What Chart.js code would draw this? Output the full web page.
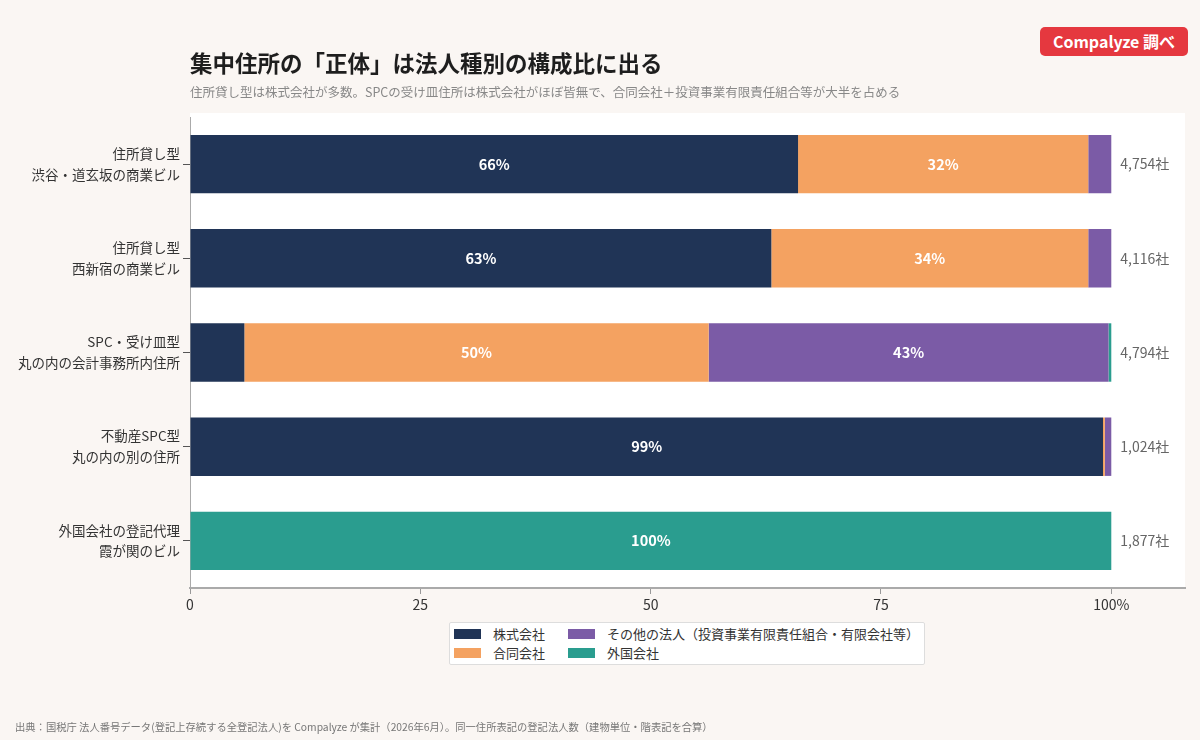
<!DOCTYPE html>
<html lang="ja">
<head>
<meta charset="utf-8"/>
<title>集中住所の「正体」は法人種別の構成比に出る</title>
<script src="https://cdn.jsdelivr.net/npm/chart.js"></script>
<style>
    html, body {
        margin: 0;
        padding: 0;
        width: 1200px;
        height: 740px;
        background: #faf6f3;
        font-family: 'Noto Sans CJK JP', 'Noto Sans', sans-serif;
        overflow: hidden;
    }
    #wrap { position: relative; width: 1200px; height: 740px; }
    #chart { position: absolute; left: 0; top: 0; }
    .title {
        position: absolute; left: 190px; top: 46px;
        font-size: 22.5px; font-weight: bold; color: #1e1e1e;
    }
    .subtitle {
        position: absolute; left: 190px; top: 82px;
        font-size: 12.5px; color: #888;
    }
    .badge {
        position: absolute; left: 1040px; top: 27px; width: 148px; height: 29px;
        background: #e5383f; color: #fff; border-radius: 5px;
        font-size: 16px; font-weight: bold; line-height: 29px; text-align: center;
    }
    .legend {
        position: absolute; left: 449px; top: 622px; width: 474px; height: 41px;
        background: #fff; border: 1px solid #ddd; border-radius: 2px;
        font-size: 13px; color: #333;
    }
    .legend .item { position: absolute; display: flex; align-items: center; line-height: 18px; }
    .legend .sw { width: 27px; height: 10px; margin-right: 12px; }
    .footer {
        position: absolute; left: 15px; top: 719px;
        font-size: 10.3px; color: #777;
    }
</style>
</head>
<body>
<div id="wrap">
    <canvas id="chart" width="1200" height="740"></canvas>
    <div class="title">集中住所の「正体」は法人種別の構成比に出る</div>
    <div class="subtitle">住所貸し型は株式会社が多数。SPCの受け皿住所は株式会社がほぼ皆無で、合同会社＋投資事業有限責任組合等が大半を占める</div>
    <div class="badge">Compalyze 調べ</div>
    <div class="legend" id="legend"></div>
    <div class="footer">出典：国税庁 法人番号データ(登記上存続する全登記法人)を Compalyze が集計（2026年6月）。同一住所表記の登記法人数（建物単位・階表記を合算）</div>
</div>
<script>
// categories (two-line labels)
const categories = [
    ['住所貸し型', '渋谷・道玄坂の商業ビル'],
    ['住所貸し型', '西新宿の商業ビル'],
    ['SPC・受け皿型', '丸の内の会計事務所内住所'],
    ['不動産SPC型', '丸の内の別の住所'],
    ['外国会社の登記代理', '霞が関のビル']
];
const totals = ['4,754社', '4,116社', '4,794社', '1,024社', '1,877社'];

const seriesNames = ['株式会社', '合同会社', 'その他の法人（投資事業有限責任組合・有限会社等）', '外国会社'];
const seriesColors = ['#203456', '#f4a261', '#7b5ba6', '#2a9d8f'];

// share (%) per category
const kabushiki = [66.0, 63.1, 5.9, 99.1, 0];
const godo      = [31.5, 34.4, 50.4, 0.2, 0];
const other     = [2.5, 2.5, 43.4, 0.7, 0];
const gaikoku   = [0, 0, 0.3, 0, 100];

const xTicks = [0, 25, 50, 75, 100];

const seriesValues = [kabushiki, godo, other, gaikoku];

// legend (HTML, two columns): 株式会社 / 合同会社 left, その他 / 外国会社 right
const legendEl = document.getElementById('legend');
const legendPos = [[4, 2], [4, 21], [118, 2], [118, 21]];
seriesNames.forEach((name, i) => {
    const it = document.createElement('div');
    it.className = 'item';
    it.style.left = legendPos[i][0] + 'px';
    it.style.top = legendPos[i][1] + 'px';
    it.innerHTML = `<span class="sw" style="background:${seriesColors[i]}"></span>${name}`;
    legendEl.appendChild(it);
});

const plotBg = {
    id: 'plotBg',
    beforeDraw(chart) {
        const { ctx, chartArea: a } = chart;
        ctx.save();
        ctx.fillStyle = '#ffffff';
        ctx.fillRect(a.left, a.top - 4, a.right - a.left, a.bottom - a.top + 4);
        ctx.restore();
    }
};

const labels = {
    id: 'labels',
    afterDatasetsDraw(chart) {
        const { ctx } = chart;
        ctx.save();
        ctx.textAlign = 'center';
        ctx.textBaseline = 'middle';
        ctx.font = 'bold 14.5px "Noto Sans CJK JP", sans-serif';
        ctx.fillStyle = '#ffffff';
        chart.data.datasets.forEach((ds, di) => {
            chart.getDatasetMeta(di).data.forEach((bar, i) => {
                const v = ds.data[i];
                if (v >= 10) {
                    ctx.fillText(Math.round(v) + '%', (bar.base + bar.x) / 2, bar.y);
                }
            });
        });
        const xs = chart.scales.x;
        const meta = chart.getDatasetMeta(0);
        ctx.textAlign = 'left';
        ctx.font = '14px "Noto Sans CJK JP", sans-serif';
        ctx.fillStyle = '#666';
        totals.forEach((t, i) => {
            ctx.fillText(t, xs.getPixelForValue(100) + 9, meta.data[i].y);
        });
        ctx.restore();
    }
};

new Chart(document.getElementById('chart'), {
    type: 'bar',
    data: {
        labels: categories,
        datasets: seriesValues.map((vals, i) => ({
            label: seriesNames[i],
            data: vals,
            backgroundColor: seriesColors[i],
            borderWidth: 0,
            barPercentage: 0.62,
            categoryPercentage: 1
        }))
    },
    options: {
        indexAxis: 'y',
        responsive: false,
        animation: false,
        layout: { padding: { top: 117, right: 15, bottom: 122, left: 0 } },
        plugins: {
            legend: { display: false },
            tooltip: { enabled: false }
        },
        scales: {
            x: {
                stacked: true,
                min: 0,
                max: 108,
                afterBuildTicks(scale) { scale.ticks = xTicks.map(v => ({ value: v })); },
                afterFit(scale) { scale.height = 30; },
                grid: { drawOnChartArea: false, color: '#999', tickLength: 6 },
                border: { color: '#aaa', width: 2 },
                ticks: {
                    color: '#333',
                    font: { size: 14, family: '"Noto Sans CJK JP", sans-serif' },
                    padding: 2,
                    callback: v => v === 100 ? '100%' : v
                }
            },
            y: {
                stacked: true,
                afterFit(scale) { scale.width = 190; },
                grid: { drawOnChartArea: false, offset: false, color: '#555', tickLength: 7 },
                border: { color: '#aaa', width: 1 },
                ticks: {
                    color: '#333',
                    font: { size: 13.5, family: '"Noto Sans CJK JP", sans-serif', lineHeight: 1.55 },
                    padding: 3
                }
            }
        }
    },
    plugins: [plotBg, labels]
});
</script>
</body>
</html>
